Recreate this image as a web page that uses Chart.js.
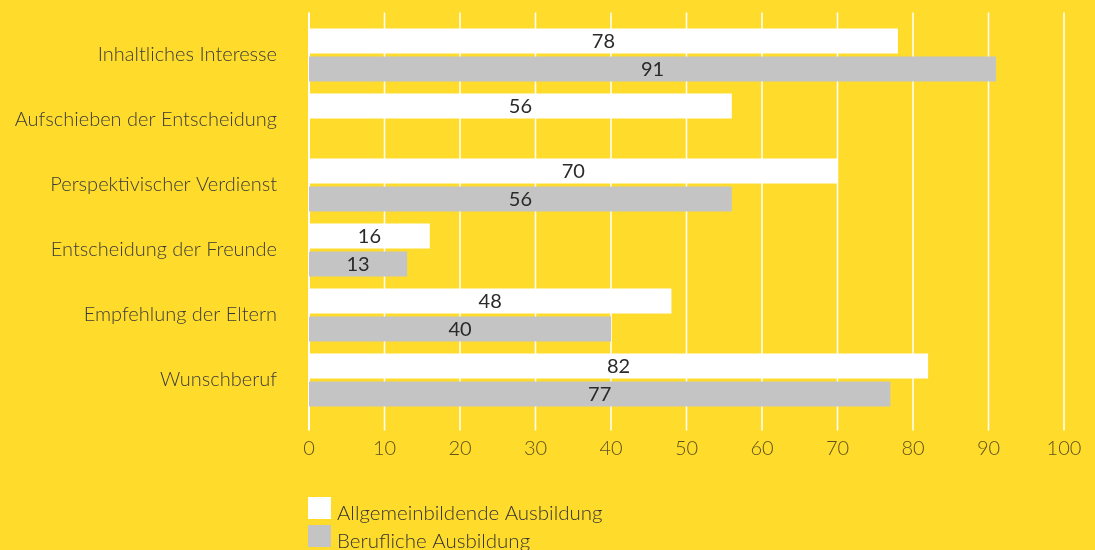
<!DOCTYPE html>
<html>
<head>
<meta charset="utf-8">
<script src="https://cdn.jsdelivr.net/npm/chart.js@4.4.0/dist/chart.umd.min.js"></script>
<style>
  html, body { margin: 0; padding: 0; background: #FFDC2B; }
  #chart { display: block; }
</style>
</head>
<body>
<canvas id="chart" width="1095" height="550"></canvas>
<script>
let categories = ['Inhaltliches Interesse', 'Aufschieben der Entscheidung', 'Perspektivischer Verdienst',
    'Entscheidung der Freunde', 'Empfehlung der Eltern', 'Wunschberuf'];
let allgemein = [78, 56, 70, 16, 48, 82];
let beruflich = [91, null, 56, 13, 40, 77];
let seriesNames = ['Allgemeinbildende Ausbildung', 'Berufliche Ausbildung'];

const FONT = 'Lato, "Open Sans", "DejaVu Sans", sans-serif';

// white vertical lines, a bit longer than the plot area
let gridPlugin = {
    id: 'longGrid',
    beforeDatasetsDraw(chart) {
        let ctx = chart.ctx, x = chart.scales.x, area = chart.chartArea;
        ctx.save();
        ctx.strokeStyle = '#ffffff';
        x.ticks.forEach(function (t, i) {
            let px = x.getPixelForValue(t.value);
            ctx.lineWidth = i === 0 ? 2 : 1.5;
            ctx.beginPath();
            ctx.moveTo(px, area.top - 10);
            ctx.lineTo(px, area.bottom + 18);
            ctx.stroke();
        });
        ctx.restore();
    }
};

let valueLabels = {
    id: 'valueLabels',
    afterDatasetsDraw(chart) {
        let ctx = chart.ctx;
        ctx.save();
        ctx.font = '20px ' + FONT;
        ctx.fillStyle = '#2a2a2a';
        ctx.textAlign = 'center';
        ctx.textBaseline = 'middle';
        chart.data.datasets.forEach(function (ds, di) {
            let meta = chart.getDatasetMeta(di);
            meta.data.forEach(function (bar, i) {
                let v = ds.data[i];
                if (v === null || v === undefined) return;
                let p = bar.getProps(['x', 'y', 'base'], true);
                ctx.fillText(String(v), (p.x + p.base) / 2, p.y + 1);
            });
        });
        ctx.restore();
    }
};

// stacked legend below the axis, lined up with the zero line
let stackedLegend = {
    id: 'stackedLegend',
    afterDraw(chart) {
        let ctx = chart.ctx;
        let left = chart.scales.x.left - 1;
        ctx.save();
        ctx.font = '300 20.5px ' + FONT;
        ctx.textBaseline = 'middle';
        ctx.textAlign = 'left';
        chart.data.datasets.forEach(function (ds, i) {
            let top = 497 + i * 28;
            ctx.fillStyle = ds.backgroundColor;
            ctx.fillRect(left, top, 23, 22);
            ctx.fillStyle = '#333333';
            ctx.fillText(ds.label, left + 29, top + 16);
        });
        ctx.restore();
    }
};

new Chart(document.getElementById('chart'), {
    type: 'bar',
    data: {
        labels: categories,
        datasets: [{
            label: seriesNames[0],
            data: allgemein,
            backgroundColor: '#ffffff',
            categoryPercentage: 0.86,
            barPercentage: 0.89
        }, {
            label: seriesNames[1],
            data: beruflich,
            backgroundColor: '#c4c4c4',
            categoryPercentage: 0.86,
            barPercentage: 0.89
        }]
    },
    options: {
        indexAxis: 'y',
        responsive: false,
        animation: false,
        devicePixelRatio: 1,
        layout: { padding: { top: 22.5, right: 31, bottom: 0, left: 0 } },
        plugins: {
            legend: { display: false },
            tooltip: { enabled: false }
        },
        scales: {
            x: {
                min: 0,
                max: 100,
                ticks: {
                    stepSize: 10,
                    padding: 24,
                    color: '#5e521c',
                    font: { family: FONT, size: 20, weight: 300 }
                },
                grid: { display: false, drawTicks: false },
                border: { display: false },
                afterFit: function (s) {
                    s.height = 137.5;
                    s.paddingLeft = 0;
                    s.paddingRight = 0;
                }
            },
            y: {
                ticks: {
                    padding: 32,
                    color: '#3a3a3a',
                    font: { family: FONT, size: 20, weight: 300 }
                },
                grid: { display: false, drawTicks: false },
                border: { display: false },
                afterFit: function (s) {
                    s.width = 309;
                    s.paddingTop = 0;
                    s.paddingBottom = 0;
                }
            }
        }
    },
    plugins: [gridPlugin, valueLabels, stackedLegend]
});
</script>
</body>
</html>
